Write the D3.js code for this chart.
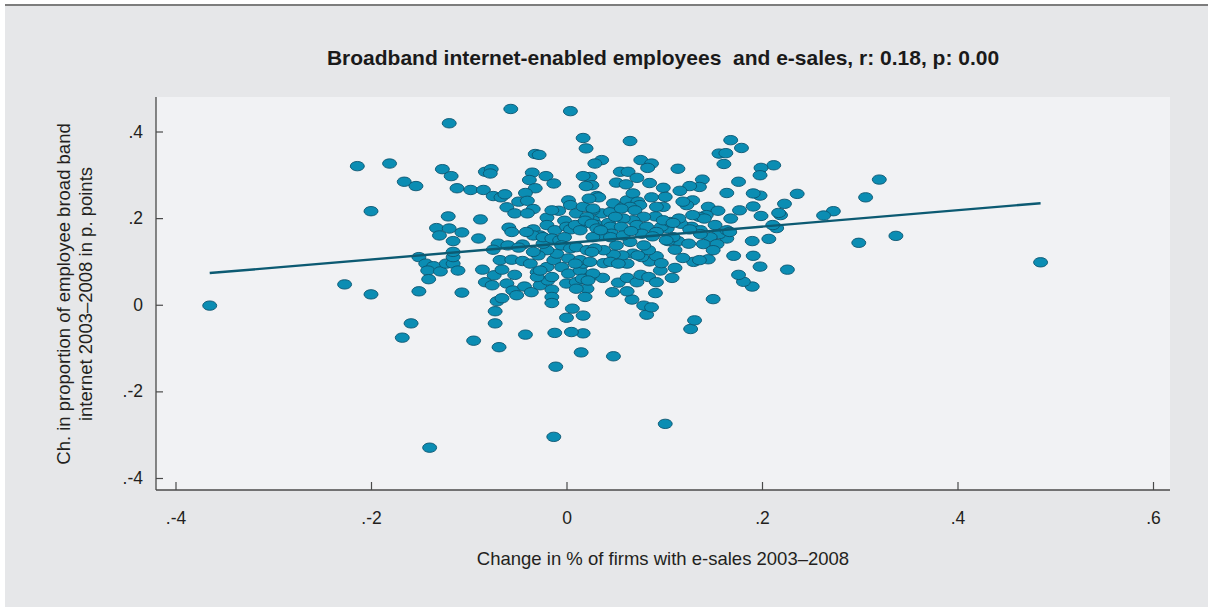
<!DOCTYPE html>
<html>
<head>
<meta charset="utf-8">
<script src="https://cdn.jsdelivr.net/npm/d3@7"></script>
<style>
  html, body { margin: 0; padding: 0; background: #ffffff; }
  svg { display: block; font-family: "Liberation Sans", Arial, Helvetica, sans-serif; }
</style>
</head>
<body>
<svg id="chart" width="1208" height="607"></svg>
<script>
// ---- chart text ----
const chartTitle = "Broadband internet-enabled employees  and e-sales, r: 0.18, p: 0.00";
const xAxisTitle = "Change in % of firms with e-sales 2003\u20132008";
const yAxisTitleLines = ["Ch. in proportion of employee broad band", "internet 2003\u20132008 in p. points"];

// ---- ticks ----
const xTicks = [-0.4, -0.2, 0, 0.2, 0.4, 0.6];
const xTickLabels = [".-4", ".-2", "0", ".2", ".4", ".6"];
const yTicks = [0.4, 0.2, 0, -0.2, -0.4];
const yTickLabels = [".4", ".2", "0", ".-2", ".-4"];

// ---- fitted line (linear fit over the data range) ----
const fitIntercept = 0.1424;
const fitSlope = 0.1897;

// ---- observations: [change in e-sales share, change in broadband employees] ----
const observations = [
  [-0.365,-0.002],[-0.227,0.047],[-0.200,0.024],[-0.214,0.320],[-0.181,0.326],[-0.200,0.216],
  [-0.166,0.284],[-0.154,0.274],[-0.159,-0.043],[-0.168,-0.076],[-0.151,0.110],[-0.151,0.031],
  [-0.140,-0.330],[-0.120,0.419],[-0.057,0.452],[0.004,0.447],[-0.011,-0.143],[-0.013,-0.305],
  [0.101,-0.275],[0.485,0.098],[0.337,0.159],[0.299,0.143],[0.320,0.289],[0.306,0.248],
  [0.273,0.216],[0.263,0.206],[0.236,0.256],[0.226,0.081],
  [-0.095,-0.083],[-0.069,-0.098],[-0.042,-0.069],[-0.073,-0.043],[-0.073,-0.015],[0.048,-0.119],
  [0.127,-0.056],[0.131,-0.036],[0.082,-0.023],[0.079,-0.002],[0.087,-0.006],[0.067,0.012],
  [0.091,0.027],[0.047,0.029],[0.062,0.031],[0.017,-0.025],[0.006,-0.009],[0.000,-0.030],
  [0.017,-0.066],[-0.012,-0.065],[0.005,-0.063],[0.015,-0.110],[0.150,0.013],
  [0.223,0.233],[0.219,0.207],[0.217,0.212],[0.215,0.177],[0.211,0.184],[0.212,0.322],
  [0.199,0.316],[0.198,0.299],[0.198,0.252],[0.191,0.257],[0.191,0.227],[0.199,0.205],
  [0.207,0.152],[0.198,0.088],[0.191,0.113],[0.190,0.147],[0.190,0.042],[0.181,0.053],
  [0.176,0.069],[0.171,0.113],[0.168,0.380],[0.179,0.362],[0.156,0.349],[0.163,0.350],
  [0.161,0.325],[0.176,0.284],[0.164,0.258],[0.114,0.314],[0.139,0.289],[0.136,0.272],
  [0.126,0.274],[0.116,0.263],[0.099,0.270],[0.129,0.241],[0.123,0.230],[0.145,0.226],
  [0.155,0.217],[0.177,0.218],[0.168,0.199],[0.143,0.207],[0.136,0.203],[0.141,0.199],
  [0.128,0.180],[0.152,0.184],[0.137,0.172],[0.164,0.153],[0.156,0.163],[0.147,0.156],
  [0.137,0.163],[0.140,0.140],[0.154,0.140],[0.150,0.126],[0.114,0.147],[0.125,0.141],
  [0.104,0.147],[0.111,0.127],[0.109,0.156],[0.145,0.105],[0.130,0.099],[0.136,0.103],
  [0.119,0.108],[0.111,0.085],[0.108,0.062],[0.103,0.176],[0.097,0.180],[0.099,0.226],
  [0.101,0.249],[0.106,0.191],[0.117,0.187],[0.126,0.174],[0.115,0.199],[0.164,0.172],
  [0.167,0.168],
  [0.065,0.378],[0.076,0.334],[0.087,0.326],[0.083,0.316],[0.036,0.334],[0.029,0.326],
  [0.055,0.307],[0.063,0.307],[0.072,0.293],[0.085,0.281],[0.051,0.282],[0.061,0.278],
  [0.017,0.385],[0.020,0.361],[0.024,0.295],[0.026,0.276],[0.031,0.251],[0.033,0.248],
  [0.036,0.211],[0.027,0.218],[0.027,0.195],[0.031,0.184],[0.043,0.189],[0.045,0.214],
  [0.048,0.234],[0.058,0.226],[0.062,0.241],[0.068,0.257],[0.073,0.238],[0.075,0.230],
  [0.065,0.226],[0.056,0.222],[0.070,0.218],[0.087,0.248],[0.092,0.226],[0.091,0.204],
  [0.099,0.195],[0.079,0.203],[0.068,0.195],[0.058,0.199],[0.050,0.203],[0.045,0.180],
  [0.056,0.180],[0.072,0.184],[0.082,0.180],[0.109,0.189],[0.119,0.238],[0.129,0.207],
  [-0.032,0.348],[-0.028,0.346],[-0.127,0.313],[-0.118,0.297],[-0.083,0.307],[-0.077,0.313],
  [-0.078,0.303],[-0.035,0.305],[-0.021,0.297],[-0.038,0.288],[-0.013,0.280],[-0.032,0.269],
  [0.017,0.297],[0.020,0.274],[-0.112,0.269],[-0.098,0.265],[-0.085,0.265],[-0.075,0.251],
  [-0.067,0.248],[-0.063,0.255],[-0.042,0.258],[-0.049,0.238],[-0.040,0.240],[-0.034,0.221],
  [-0.061,0.225],[-0.053,0.211],[-0.040,0.211],[-0.121,0.204],[-0.088,0.197],[-0.020,0.201],
  [-0.008,0.217],[-0.002,0.194],[0.002,0.241],[0.004,0.230],[0.010,0.211],[0.017,0.226],
  [0.023,0.245],[0.027,0.222],[0.021,0.203],[-0.133,0.177],[-0.120,0.176],[-0.130,0.160],
  [-0.107,0.167],[-0.090,0.153],[-0.059,0.178],[-0.056,0.168],[-0.034,0.174],[-0.020,0.184],
  [-0.012,0.172],[0.000,0.180],[0.017,0.187],[-0.027,0.160],[0.004,0.174],[0.009,0.184],
  [0.014,0.172],[0.019,0.194],[0.026,0.187],[0.031,0.176],[-0.015,0.218],
  [-0.116,0.147],[-0.144,0.095],[-0.136,0.089],[-0.142,0.079],[-0.129,0.077],[-0.123,0.095],
  [-0.116,0.095],[-0.116,0.110],[-0.116,0.122],[-0.111,0.079],[-0.141,0.059],[-0.107,0.028],
  [-0.086,0.081],[-0.083,0.052],[-0.076,0.045],[-0.074,0.068],[-0.066,0.081],[-0.068,0.103],
  [-0.070,0.141],[-0.075,0.127],[-0.060,0.137],[-0.056,0.104],[-0.061,0.049],[-0.053,0.069],
  [-0.055,0.033],[-0.051,0.022],[-0.043,0.042],[-0.045,0.101],[-0.037,0.095],[-0.036,0.029],
  [-0.030,0.075],[-0.027,0.045],[-0.019,0.056],[-0.020,0.087],[-0.015,0.035],[-0.015,0.018],
  [-0.015,0.004],[-0.013,0.103],[-0.010,0.118],[-0.020,0.126],[-0.029,0.114],[-0.024,0.141],
  [-0.034,0.122],[-0.045,0.139],[-0.049,0.132],[-0.034,0.160],[-0.024,0.156],[-0.015,0.153],
  [-0.007,0.149],[-0.002,0.156],[-0.005,0.137],[0.004,0.130],[0.002,0.107],[-0.005,0.087],
  [0.002,0.072],[0.000,0.049],[0.010,0.052],[0.014,0.079],[0.017,0.095],[0.024,0.064],
  [0.021,0.037],[0.019,0.018],[-0.041,0.168],[-0.071,0.008],[-0.066,0.015],[0.010,0.133],
  [0.014,0.103],[0.021,0.126],[0.009,0.095],[0.024,0.099],[0.016,0.060],[0.010,0.037],
  [-0.030,0.064],[-0.027,0.079],[-0.015,0.064],
  [0.037,0.062],[0.053,0.051],[0.062,0.062],[0.072,0.052],[0.076,0.069],[0.084,0.064],
  [0.092,0.052],[0.038,0.096],[0.027,0.072],[0.022,0.056],[0.096,0.079],[0.085,0.100],
  [0.092,0.112],[0.097,0.096],[0.077,0.110],[0.068,0.118],[0.062,0.095],[0.057,0.114],
  [0.048,0.116],[0.045,0.099],[0.053,0.095],[0.038,0.126],[0.029,0.130],[0.026,0.122],
  [0.084,0.126],[0.073,0.114],[0.102,0.149],[0.046,0.164],[0.065,0.145],[0.051,0.137],
  [0.038,0.160],[0.027,0.156],[0.079,0.137],[0.045,0.156],[0.058,0.160],[0.077,0.164],
  [0.092,0.168],[0.088,0.158],[0.035,0.172],[0.066,0.170]
];

// ---- drawing ----
const svg = d3.select("#chart");

// page panel and rule above it
svg.append("rect").attr("x", 5).attr("y", 6).attr("width", 1203).attr("height", 601).attr("fill", "#e6e7e9");
svg.append("line").attr("x1", 5).attr("x2", 1208).attr("y1", 5).attr("y2", 5)
  .attr("stroke", "#7d7d7d").attr("stroke-width", 2);

// plot region
const plotLeft = 156, plotRight = 1170, plotTop = 97, plotBottom = 490;
svg.append("rect").attr("x", plotLeft).attr("y", plotTop)
  .attr("width", plotRight - plotLeft).attr("height", plotBottom - plotTop).attr("fill", "#f1f2f4");

const x = d3.scaleLinear().domain([-0.4, 0.6]).range([175.5, 1153]);
const y = d3.scaleLinear().domain([-0.4, 0.4]).range([478, 131.5]);

// title
svg.append("text").attr("x", 663).attr("y", 57)
  .attr("text-anchor", "middle").attr("dominant-baseline", "central")
  .style("white-space", "pre").attr("font-weight", "bold").attr("font-size", 21).attr("fill", "#1a1a1a")
  .text(chartTitle);

// axes
const yAxis = d3.axisLeft(y).tickValues(yTicks)
  .tickFormat((d, i) => yTickLabels[i]).tickSizeInner(-7).tickSizeOuter(0).tickPadding(13);
const gy = svg.append("g").attr("transform", `translate(${plotLeft},0)`).call(yAxis);

const xAxis = d3.axisBottom(x).tickValues(xTicks)
  .tickFormat((d, i) => xTickLabels[i]).tickSizeInner(-8).tickSizeOuter(0).tickPadding(22);
const gx = svg.append("g").attr("transform", `translate(0,${plotBottom})`).call(xAxis);

[gx, gy].forEach(g => {
  g.select(".domain").remove();
  g.selectAll(".tick line").attr("stroke", "#4a4a4a").attr("stroke-width", 1.2);
  g.selectAll(".tick text").attr("font-size", 17.5).attr("fill", "#231f20")
    .attr("font-family", "\"Liberation Sans\", Arial, sans-serif");
});

// axis lines
svg.append("line").attr("x1", plotLeft).attr("x2", plotLeft).attr("y1", plotTop).attr("y2", plotBottom)
  .attr("stroke", "#4a4a4a").attr("stroke-width", 1.3);
svg.append("line").attr("x1", plotLeft).attr("x2", plotRight).attr("y1", plotBottom).attr("y2", plotBottom)
  .attr("stroke", "#4a4a4a").attr("stroke-width", 1.3);

// axis titles
svg.append("text").attr("x", 663).attr("y", 558)
  .attr("text-anchor", "middle").attr("dominant-baseline", "central")
  .attr("font-size", 18.5).attr("fill", "#231f20").text(xAxisTitle);

const yTitleX = [63, 85];
yAxisTitleLines.forEach((line, i) => {
  svg.append("text")
    .attr("transform", `translate(${yTitleX[i]},294) rotate(-90)`)
    .attr("text-anchor", "middle").attr("dominant-baseline", "central")
    .attr("font-size", 18.5).attr("fill", "#231f20").text(line);
});

// observations
svg.append("g").selectAll("ellipse").data(observations).join("ellipse")
  .attr("cx", d => x(d[0])).attr("cy", d => y(d[1]))
  .attr("rx", 7).attr("ry", 4.7)
  .attr("fill", "#0b8db3").attr("stroke", "#0c5670").attr("stroke-width", 0.9);

// fitted line across the observed range
const xExtent = d3.extent(observations, d => d[0]);
svg.append("path")
  .datum(xExtent.map(v => [v, fitIntercept + fitSlope * v]))
  .attr("d", d3.line().x(d => x(d[0])).y(d => y(d[1])))
  .attr("fill", "none").attr("stroke", "#0c5a72").attr("stroke-width", 2.4);
</script>
</body>
</html>
